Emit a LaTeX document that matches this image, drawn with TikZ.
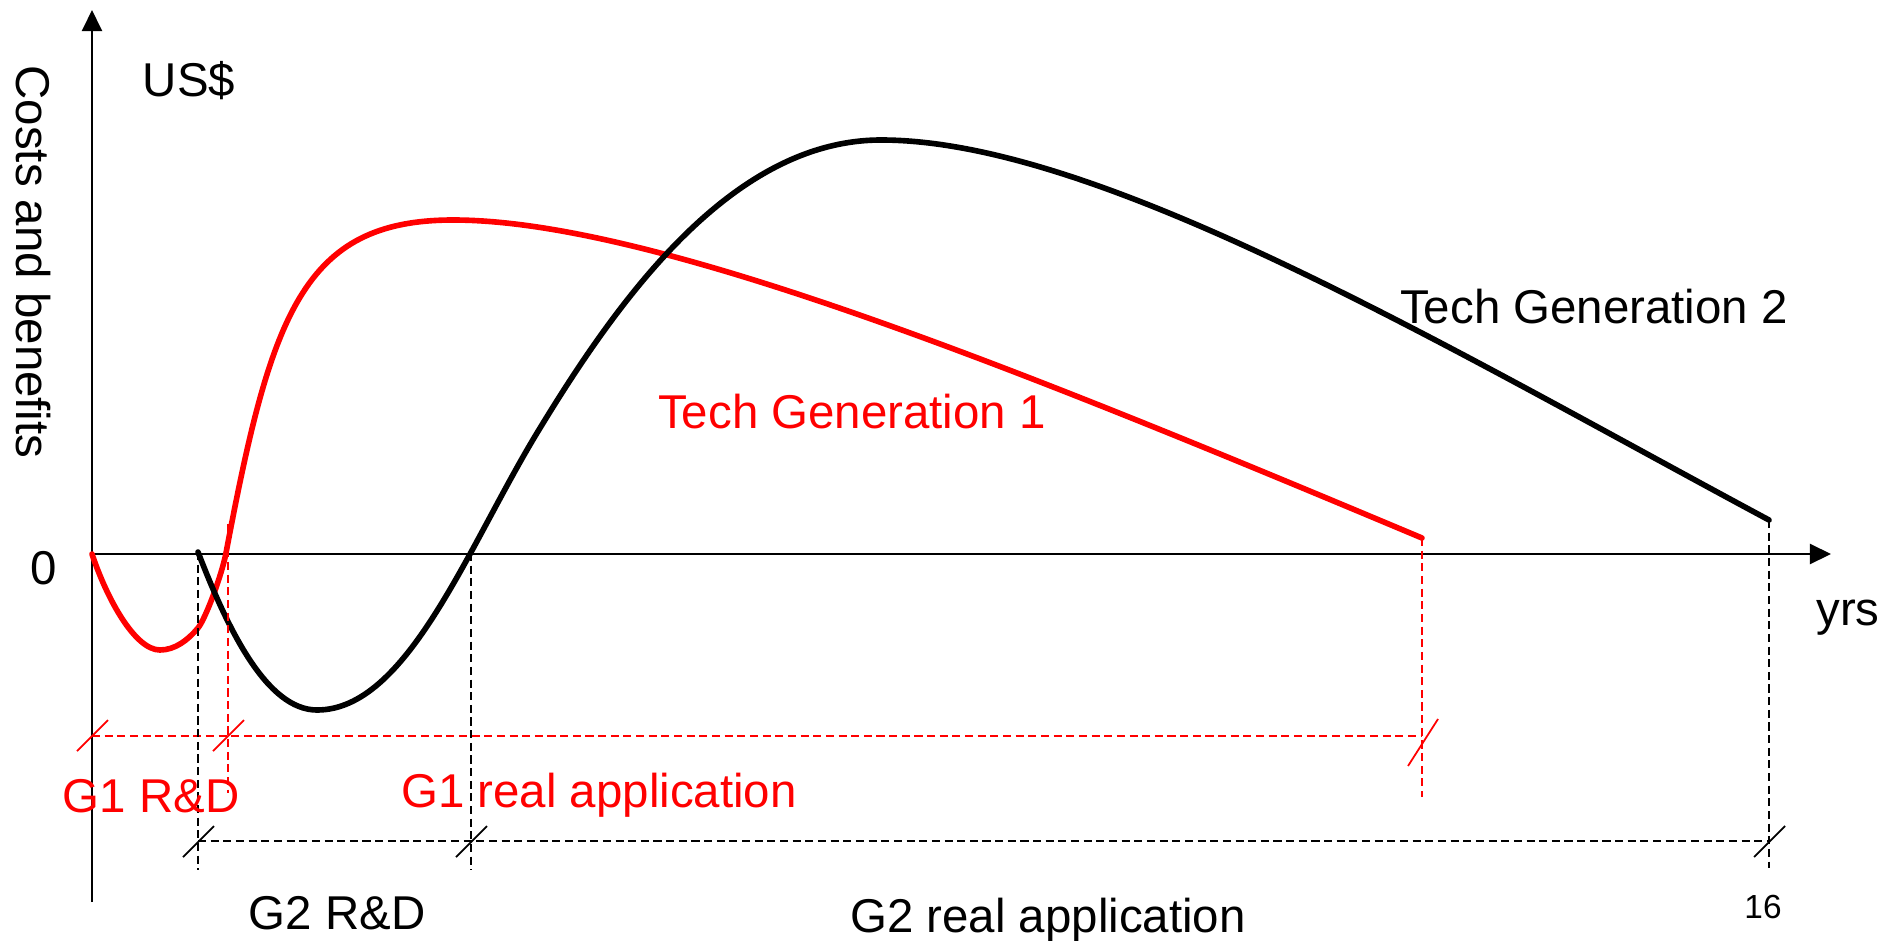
\documentclass[tikz,border=0pt]{standalone}
\usepackage{fontspec}
\setmainfont{Liberation Sans}
\usetikzlibrary{arrows.meta}

\begin{document}
\begin{tikzpicture}[x=0.1mm, y=-0.1mm,
        font=\fontsize{13.5}{16}\selectfont,
        lbl/.style={anchor=base, inner sep=0pt},
        curve/.style={line width=1.6pt, line join=round, line cap=round},
        guide/.style={line width=0.5pt, dash pattern=on 2.3pt off 1.3pt},
        slash/.style={line width=0.5pt},
        axis/.style={line width=0.6pt, -{Triangle[width=5.7pt,length=6pt]}}]
        % Fix the page to the size of the picture
        \useasboundingbox (0,0) rectangle (1898,940);

        % Define the corners of the axes
        \coordinate (O) at (92,554);
        \coordinate (Ytop) at (92,10);
        \coordinate (Ybot) at (92,902);
        \coordinate (Xend) at (1831,554);

        % Draw the two axes
        \draw[axis] (Ybot) -- (Ytop);
        \draw[axis] (O) -- (Xend);

        % Mark the start and end points of both generations
        \coordinate (G1end) at (1422,538);
        \coordinate (G2start) at (198,552);
        \coordinate (G2end) at (1769,520);

        % Draw the curve of tech generation 1
        \draw[curve, red] (O) .. controls (107,599) and (135,650) .. (160,650)
            .. controls (175,650) and (188,640) .. (198,628)
            .. controls (206,618) and (222,574) .. (226,553)
            .. controls (271,314.5) and (303,220) .. (453,220)
            .. controls (653,220) and (1022,370) .. (G1end);

        % Draw the curve of tech generation 2
        \draw[curve] (G2start) .. controls (228,630) and (267,710) .. (317,710)
            .. controls (407,710) and (467,548.5) .. (537,433)
            .. controls (617,301) and (731,140) .. (881,140)
            .. controls (1100,140) and (1450,349) .. (G2end);

        % Dashed guides of generation 1
        \coordinate (R1top) at (228,524);
        \coordinate (R1bot) at (228,793);
        \coordinate (R2bot) at (1422,797);
        \coordinate (Rleft) at (92,736);
        \coordinate (Rright) at (1422,736);
        \draw[guide, red] (R1top) -- (R1bot);
        \draw[guide, red] (G1end) -- (R2bot);
        \draw[guide, red] (Rleft) -- (Rright);
        \foreach \x in {92,228}
            \draw[slash, red] (\x-15,751) -- (\x+16,720);
        \draw[slash, red] (1408,766) -- (1438,719);

        % Dashed guides of generation 2
        \coordinate (B1bot) at (198,870);
        \coordinate (B2top) at (471,553);
        \coordinate (B2bot) at (471,870);
        \coordinate (B3bot) at (1769,868);
        \coordinate (Bleft) at (198,841);
        \coordinate (Bright) at (1769,841);
        \draw[guide] (G2start) -- (B1bot);
        \draw[guide] (B2top) -- (B2bot);
        \draw[guide] (G2end) -- (B3bot);
        \draw[guide] (Bleft) -- (Bright);
        \foreach \x in {198,471,1769}
            \draw[slash] (\x-15,857) -- (\x+16,826);

        % Axis labels
        \node[rotate=-90, inner sep=0pt] (costs) at (33,262) {Costs and benefits};
        \node[lbl] (usd) at (189,96) {US\$};
        \node[lbl] (zero) at (44,584) {0};
        \node[lbl] (yrs) at (1848,625) {yrs};
        \node[lbl, font=\fontsize{9.5}{11}\selectfont] (sixteen) at (1763,918) {16};

        % Label the two curves
        \node[lbl, red] (gen1) at (852,428) {Tech Generation 1};
        \node[lbl] (gen2) at (1594,323) {Tech Generation 2};

        % Label the phases
        \node[lbl, red] (g1rd) at (151,812) {G1 R\&D};
        \node[lbl, red] (g1app) at (599,807) {G1 real application};
        \node[lbl] (g2rd) at (337,929) {G2 R\&D};
        \node[lbl] (g2app) at (1048,932) {G2 real application};

    \end{tikzpicture}
\end{document}
